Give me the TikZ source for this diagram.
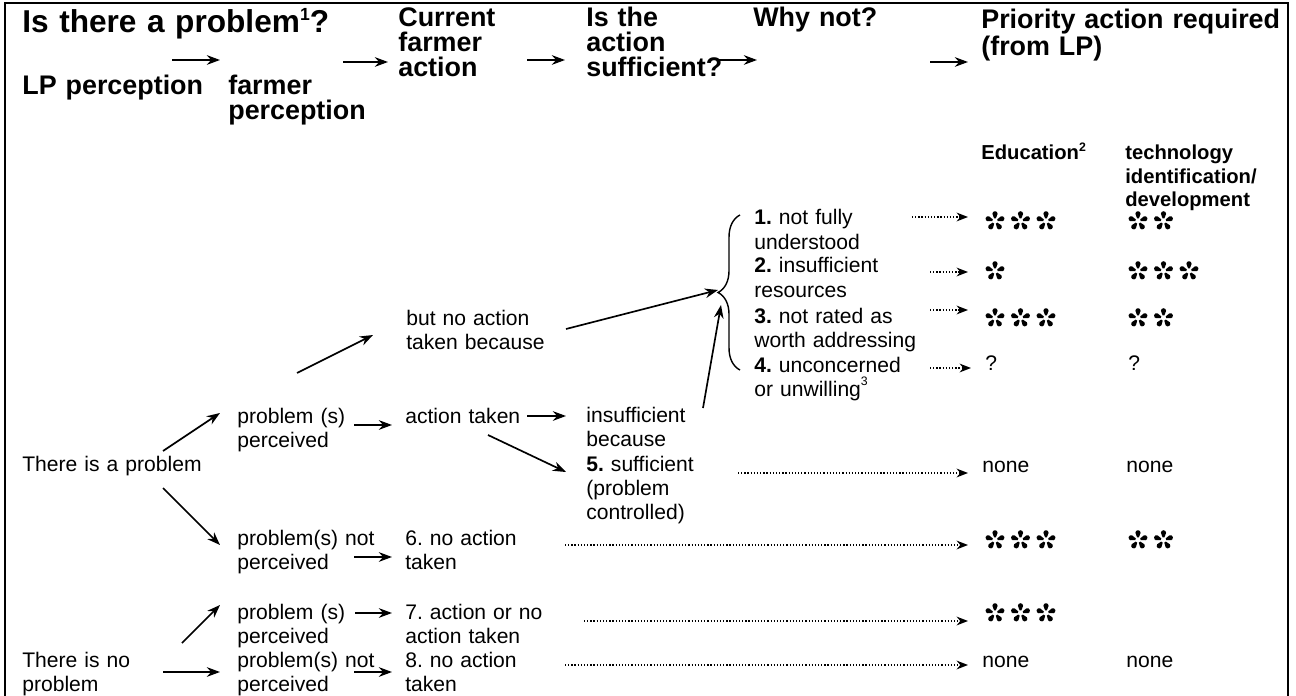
\documentclass[tikz,border=0pt]{standalone}
\usepackage{fontspec}
\setmainfont{Liberation Sans}
\usetikzlibrary{arrows.meta, calc, decorations.pathreplacing}
\setlength{\lineskiplimit}{-20pt}

\begin{document}
\frenchspacing
\begin{tikzpicture}[x=0.02cm, y=-0.02cm,
    txt/.style={anchor=base west, inner sep=0pt, align=left, text width=5cm, font=\fontsize{12}{13.7}\selectfont},
    head/.style={txt, font=\bfseries\fontsize{15.3}{14.2}\selectfont},
    subhead/.style={txt, font=\bfseries\fontsize{11.5}{13.1}\selectfont},
    arr/.style={-{Stealth[length=7.5pt, width=5.5pt]}, line width=0.95pt},
    dotarr/.style={-{Stealth[length=6.5pt, width=5pt]}, line width=0.7pt, dash pattern=on 0.7pt off 1.1pt},
    cell/.style={inner sep=0pt, minimum size=0pt, anchor=west},
    astk/.pic={
        \foreach \a in {90,18,162,234,306}
            \fill[rotate=\a] (2.6,-0.9) -- (7.2,-2.6) arc[start angle=-90, end angle=90, radius=2.6] -- (2.6,0.9) -- cycle;
    },
]
    \useasboundingbox (0,0) rectangle (1296,696);
    % frame
    \draw[line width=1.5pt] (5,696) -- (5,3) -- (1288,3) -- (1288,696);

    % headings
    \node[head, text width=9cm, font=\bfseries\fontsize{18}{20}\selectfont] (htitle) at (22,33)
        {Is there a problem\raisebox{7pt}{\fontsize{10}{10}\selectfont 1}?};
    \node[head] (hlp) at (22,95) {LP perception};
    \node[head] (hfarm) at (228,95) {farmer\\perception};
    \node[head] (hcur) at (398,27) {Current\\farmer\\action};
    \node[head] (hsuf) at (586,27) {Is the\\action\\sufficient?};
    \node[head] (hwhy) at (753,27) {Why not?};
    \node[head, text width=6.5cm] (hpri) at (981,29) {Priority action required\\(from LP)};
    \node[subhead] (hedu) at (981,160) {Education\raisebox{5pt}{\fontsize{7}{7}\selectfont 2}};
    \node[subhead] (htech) at (1125,160) {technology\\identification/\\development};

    \draw[arr] ($(hfarm.base west)+(-56,-35)$) -- ($(hfarm.base west)+(-8,-35)$);
    \draw[arr] ($(hcur.base west)+(-55,35)$) -- ($(hcur.base west)+(-10,35)$);
    \draw[arr] ($(hsuf.base west)+(-59,33)$) -- ($(hsuf.base west)+(-21,33)$);
    \draw[arr] ($(hwhy.base west)+(-35,33)$) -- ($(hwhy.base west)+(4,33)$);
    \draw[arr] ($(hpri.base west)+(-51,33)$) -- ($(hpri.base west)+(-13,33)$);

    % LP perception
    \node[txt] (tp) at (22,471) {There is a problem};
    \node[txt] (tnp) at (22,667) {There is no\\problem};

    % farmer perception
    \node[txt] (pp1) at (237,423) {problem (s)\\perceived};
    \node[txt] (pnp1) at (237,545) {problem(s) not\\perceived};
    \node[txt] (pp2) at (237,619) {problem (s)\\perceived};
    \node[txt] (pnp2) at (237,667) {problem(s) not\\perceived};

    % farmer action
    \node[txt] (bna) at (406,325) {but no action\\taken because};
    \node[txt] (act) at (405,423) {action taken};
    \node[txt] (a6) at (405,545) {6. no action\\taken};
    \node[txt] (a7) at (405,619) {7. action or no\\action taken};
    \node[txt] (a8) at (405,667) {8. no action\\taken};

    % sufficiency
    \node[txt] (ins) at (586,422) {insufficient\\because};
    \node[txt] (suf) at (586,471) {\textbf{5.} sufficient\\(problem\\controlled)};

    % reasons
    \node[txt] (w1) at (754,225) {\textbf{1.} not fully\\understood};
    \node[txt] (w2) at (754,273) {\textbf{2.} insufficient\\resources};
    \node[txt] (w3) at (754,323) {\textbf{3.} not rated as\\worth addressing};
    \node[txt] (w4) at (754,372) {\textbf{4.} unconcerned\\or unwilling\raisebox{6pt}{\fontsize{7}{7}\selectfont 3}};
    \draw[decorate, decoration={brace, amplitude=12.5pt}, line width=0.8pt] (740,370) -- (740,215);
    \coordinate (btip) at (717,292);

    % solid connectors
    \draw[arr] ($(tp.base west)+(141,-20)$) -- ($(pp1.base west)+(-17,-10)$);
    \draw[arr] ($(tp.base west)+(141,17)$) -- ($(pnp1.base west)+(-17,0)$);
    \draw[arr] ($(tnp.base west)+(160,-24)$) -- ($(pp2.base west)+(-17,-14)$);
    \draw[arr] ($(tnp.base west)+(141,5)$) -- ($(pnp2.base west)+(-17,5)$);
    \draw[arr] ($(pp1.base west)+(117,2)$) -- ($(act.base west)+(-13,2)$);
    \draw[arr] ($(pnp1.base west)+(117,12)$) -- ($(a6.base west)+(-13,12)$);
    \draw[arr] ($(pp2.base west)+(118,-6)$) -- ($(a7.base west)+(-13,-6)$);
    \draw[arr] ($(pnp2.base west)+(117,5)$) -- ($(a8.base west)+(-13,5)$);
    \draw[arr] ($(pp1.base west)+(60,-50)$) -- ($(bna.base west)+(-33,10)$);
    \draw[arr] ($(act.base west)+(122,-7)$) -- ($(ins.base west)+(-20,-6)$);
    \draw[arr] ($(act.base west)+(83,12)$) -- ($(suf.base west)+(-20,1)$);
    \draw[arr] ($(bna.base west)+(160,4)$) -- ($(btip)+(1,-2)$);
    \draw[arr] ($(ins.base west)+(117,-14)$) -- ($(btip)+(4,13)$);

    % priority cells with stars
    \foreach \nm/\cx/\cy/\k in {e1/968/221/3, t1/1111/221/2, e2/968/271/1, t2/1111/271/3,
                               e3/968/318/3, t3/1111/318/2, e6/968/540/3, t6/1111/540/2, e7/968/613/3} {
        \node[cell] (\nm) at (\cx,\cy) {};
        \foreach \s in {1,...,\k}
            \pic at ($(\nm.west)+(\s*25.5+1.5,0)$) {astk};
    }
    \node[txt] (e4) at (985,370) {?};
    \node[txt] (t4) at (1128,370) {?};
    \node[txt] (e5) at (982,472) {none};
    \node[txt] (t5) at (1126,472) {none};
    \node[txt] (e8) at (982,667) {none};
    \node[txt] (t8) at (1126,667) {none};

    % dotted connectors
    \draw[dotarr] ($(w1.base west)+(158,-8)$) coordinate (d1) -- (d1 -| e1.west);
    \draw[dotarr] ($(w2.base west)+(176,-1)$) coordinate (d2) -- (d2 -| e2.west);
    \draw[dotarr] ($(w3.base west)+(176,-13)$) coordinate (d3) -- (d3 -| e3.west);
    \draw[dotarr] ($(w4.base west)+(176,-4)$) coordinate (d4) -- ($(d4 -| e4.west)+(-14,0)$);
    \draw[dotarr] ($(suf.base west)+(152,2)$) coordinate (d5) -- ($(d5 -| e5.west)+(-14,0)$);
    \draw[dotarr] ($(a6.base west)+(160,0)$) coordinate (d6) -- (d6 -| e6.west);
    \draw[dotarr] ($(a7.base west)+(179,2)$) coordinate (d7) -- (d7 -| e7.west);
    \draw[dotarr] ($(a8.base west)+(160,-2)$) coordinate (d8) -- ($(d8 -| e8.west)+(-14,0)$);
\end{tikzpicture}
\end{document}
